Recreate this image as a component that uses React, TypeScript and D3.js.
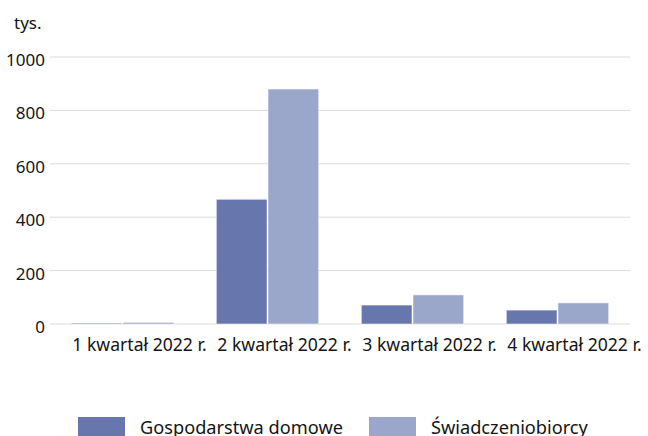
import { useEffect, useRef } from 'react';
import * as d3 from 'd3';

const categories = ['1 kwartał 2022 r.', '2 kwartał 2022 r.', '3 kwartał 2022 r.', '4 kwartał 2022 r.'];
const seriesNames = ['Gospodarstwa domowe', 'Świadczeniobiorcy'];
const households = [3, 467, 71, 52];
const beneficiaries = [6, 880, 109, 79];
const yTicks = [0, 200, 400, 600, 800, 1000];
const colors = ['#6777ad', '#9aa7ca'];

export default function App() {
  const svgRef = useRef<SVGSVGElement>(null);

  useEffect(() => {
    const svg = d3.select(svgRef.current);
    svg.selectAll('*').remove();

    const width = 648;
    const height = 436;
    const margin = { top: 57, right: 18, bottom: 112, left: 50 };
    const innerWidth = width - margin.left - margin.right;
    const innerHeight = height - margin.top - margin.bottom;
    const font = '"Noto Sans", sans-serif';
    const textColor = '#141414';

    const g = svg.append('g').attr('transform', `translate(${margin.left},${margin.top})`);

    const x0 = d3.scaleBand().domain(categories).range([0, innerWidth]).paddingInner(0.28).paddingOuter(0.14);
    const x1 = d3.scaleBand().domain(seriesNames).range([0, x0.bandwidth()]).padding(0.02);
    const y = d3.scaleLinear().domain([0, 1000]).range([innerHeight, 0]);

    // Grid
    g.selectAll('.grid')
      .data(yTicks)
      .enter()
      .append('line')
      .attr('x1', 0)
      .attr('x2', innerWidth)
      .attr('y1', d => y(d))
      .attr('y2', d => y(d))
      .attr('stroke', '#dcdcdc')
      .attr('stroke-width', 1);

    // Y labels
    g.selectAll('.ylab')
      .data(yTicks)
      .enter()
      .append('text')
      .attr('x', -5)
      .attr('y', d => y(d) + 9)
      .attr('text-anchor', 'end')
      .attr('fill', textColor)
      .style('font-family', font)
      .style('font-size', '17px')
      .text(d => String(d));

    svg.append('text')
      .attr('x', 14)
      .attr('y', 29)
      .attr('fill', textColor)
      .style('font-family', font)
      .style('font-size', '17px')
      .text('tys.');

    const rows = categories.map((c, i) => ({ c, values: [households[i], beneficiaries[i]] }));

    const groups = g.selectAll('.grp')
      .data(rows)
      .enter()
      .append('g')
      .attr('transform', d => `translate(${x0(d.c)},0)`);

    groups.selectAll('rect')
      .data(d => d.values.map((v, i) => ({ name: seriesNames[i], v, i })))
      .enter()
      .append('rect')
      .attr('x', d => x1(d.name)!)
      .attr('width', x1.bandwidth())
      .attr('y', d => y(d.v))
      .attr('height', d => innerHeight - y(d.v))
      .attr('fill', d => colors[d.i])
      .attr('stroke', '#ffffff')
      .attr('stroke-opacity', 0.5)
      .attr('stroke-width', 1);

    // X labels, left aligned with group
    g.selectAll('.xlab')
      .data(categories)
      .enter()
      .append('text')
      .attr('x', d => x0(d)! + 2)
      .attr('y', innerHeight + 27)
      .attr('fill', textColor)
      .style('font-family', font)
      .style('font-size', '17.6px')
      .text(d => d);

    // Legend
    const legendX = [78, 369];
    seriesNames.forEach((name, i) => {
      svg.append('rect')
        .attr('x', legendX[i])
        .attr('y', 417)
        .attr('width', 47)
        .attr('height', 20)
        .attr('fill', colors[i]);
      svg.append('text')
        .attr('x', legendX[i] + 62)
        .attr('y', 434)
        .attr('fill', textColor)
        .style('font-family', font)
        .style('font-size', '18.2px')
        .text(name);
    });
  }, []);

  return (
    <svg ref={svgRef} width={648} height={436} style={{ position: 'absolute', left: 0, top: 0, background: '#fff' }} />
  );
}
